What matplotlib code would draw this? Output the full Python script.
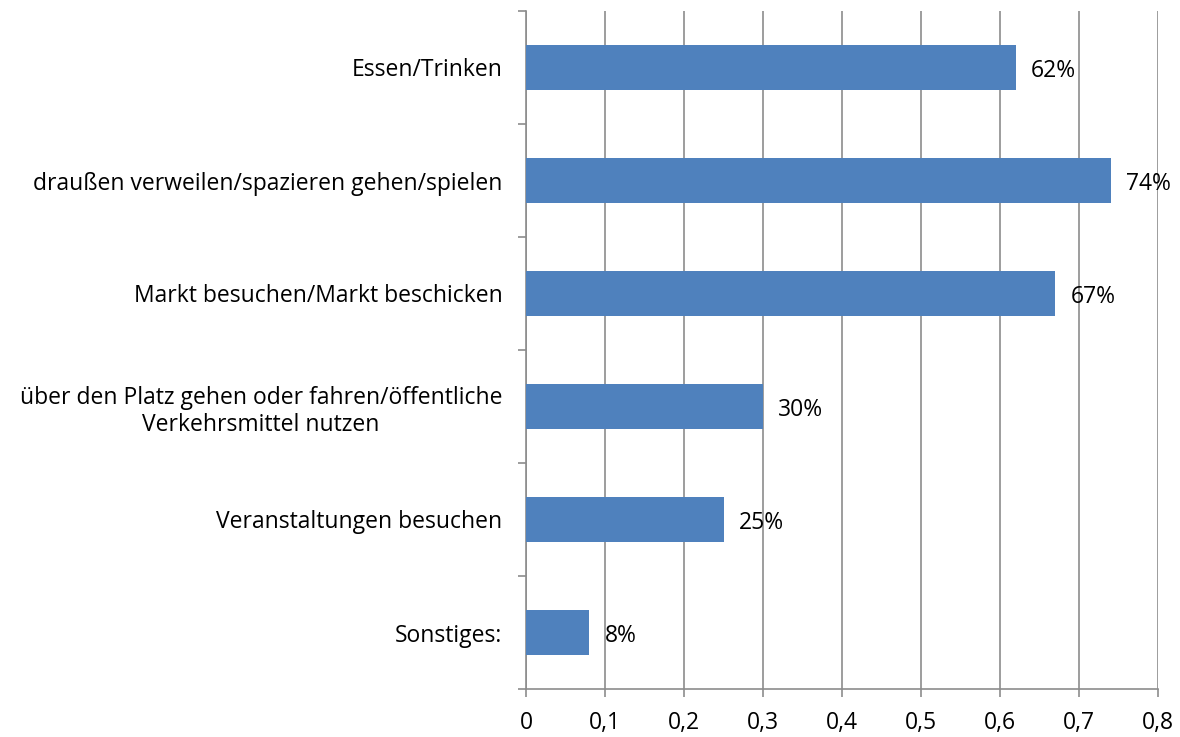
import matplotlib
matplotlib.use("Agg")
import matplotlib.pyplot as plt
import numpy as np
from matplotlib.ticker import FixedLocator, NullFormatter

categories = [
    "Essen/Trinken",
    "draußen verweilen/spazieren gehen/spielen",
    "Markt besuchen/Markt beschicken",
    "über den Platz gehen oder fahren/öffentliche\nVerkehrsmittel nutzen",
    "Veranstaltungen besuchen",
    "Sonstiges:",
]
shares = [0.62, 0.74, 0.67, 0.30, 0.25, 0.08]
xticks = [0, 0.1, 0.2, 0.3, 0.4, 0.5, 0.6, 0.7, 0.8]
xticklabels = ["0", "0,1", "0,2", "0,3", "0,4", "0,5", "0,6", "0,7", "0,8"]

BAR = "#4F81BD"
GRID = "#8c8c8c"
FS = 16.5

plt.rcParams["font.family"] = ["Open Sans", "DejaVu Sans"]

fig = plt.figure(figsize=(11.8, 7.37), dpi=100)
ax = fig.add_axes([526 / 1180, 48 / 737, 632 / 1180, 678 / 737])

y = np.arange(len(categories))
ax.barh(y, shares, height=0.4, color=BAR, zorder=3)
# value labels sit just right of each bar, a hair below centre like Excel
for yi, v in zip(y, shares):
    ax.annotate(f"{v:.0%}", (v, yi), textcoords="offset points",
                xytext=(11, -2.5), va="center", ha="left", fontsize=FS,
                color="black", zorder=4)

ax.set_xlim(0, 0.8)
ax.set_ylim(len(categories) - 0.5, -0.5)
ax.set_xticks(xticks)
ax.set_xticklabels(xticklabels, fontsize=FS)
ax.set_yticks(y)
ax.set_yticklabels(categories, fontsize=FS, multialignment="center")
ax.yaxis.set_minor_locator(FixedLocator(np.arange(-0.5, len(categories), 1)))
ax.yaxis.set_minor_formatter(NullFormatter())
ax.tick_params(axis="y", which="major", length=0, pad=17)
ax.tick_params(axis="y", which="minor", length=6, color=GRID, width=1.2)
ax.tick_params(axis="x", length=6, color=GRID, width=1.2, pad=10)

ax.grid(axis="x", color=GRID, lw=1.2, zorder=0)
for s in ("top", "right"):
    ax.spines[s].set_visible(False)
for s in ("left", "bottom"):
    ax.spines[s].set_color(GRID)
    ax.spines[s].set_linewidth(1.2)

fig.savefig("out.png", dpi=100)
